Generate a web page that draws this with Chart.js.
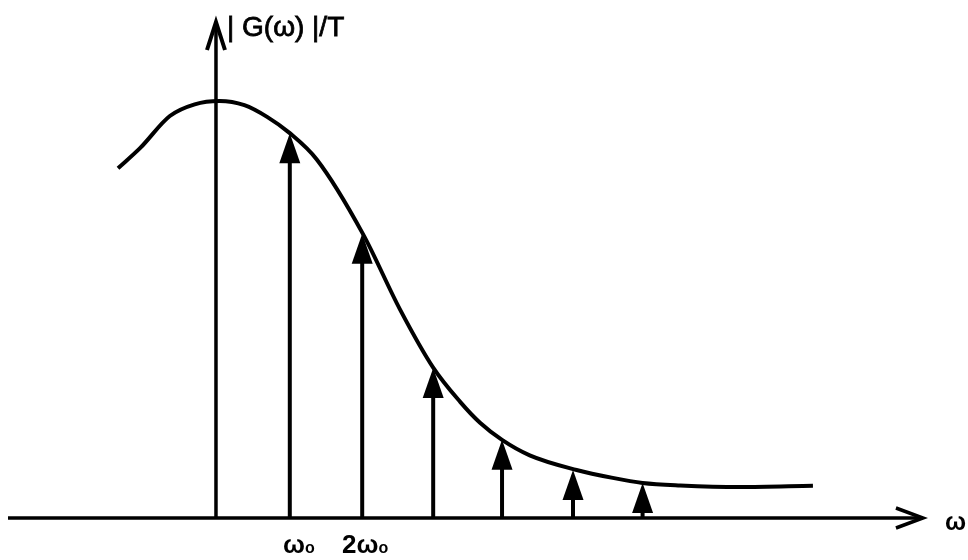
<!DOCTYPE html>
<html lang="en">
<head>
    <meta charset="UTF-8">
    <title>|G(ω)|/T spectrum</title>
    <script src="https://cdn.jsdelivr.net/npm/chart.js"></script>
    <style>
        body { margin: 0; background: #fff; }
        .chart-container { width: 968px; height: 560px; }
    </style>
</head>
<body>
    <div class="chart-container">
        <canvas id="spectrumChart" width="968" height="560"></canvas>
    </div>

    <script>
        // envelope |G(w)|/T, x in units of w0
        const curveX = [-1.38, -1.07, -0.65, -0.3, 0.05, 0.4, 0.72, 1.04, 1.42, 2.07, 2.59, 3.06, 3.44, 3.72, 4.03, 4.42, 5.08, 5.59, 6.01, 6.54, 7.38, 8.41];
        const curveY = [0.837, 0.885, 0.962, 0.990, 0.998, 0.988, 0.960, 0.921, 0.858, 0.680, 0.500, 0.360, 0.278, 0.228, 0.187, 0.150, 0.115, 0.096, 0.084, 0.078, 0.074, 0.077];

        // spectral lines at n*w0
        const lineX = [1.04, 2.06, 3.06, 4.03, 5.03, 6.01];
        const lineY = [0.921, 0.680, 0.359, 0.187, 0.115, 0.084];

        const tickX = [1.04, 2.06];
        const tickLabels = ['ω', '2ω'];
        const yTitle = '| G(ω) |/T';
        const xTitle = 'ω';

        const ink = '#000';
        const font = (size, weight) => weight + ' ' + size + 'px "Liberation Sans", Arial, sans-serif';

        // axes with arrowheads, spectral arrows and labels
        const sketchPlugin = {
            id: 'sketch',
            beforeDatasetsDraw(chart) {
                const { ctx, scales: { x, y } } = chart;
                const x0 = x.getPixelForValue(0);
                const y0 = y.getPixelForValue(0);
                ctx.save();
                ctx.strokeStyle = ink;
                ctx.fillStyle = ink;

                // horizontal axis
                ctx.lineWidth = 3.5;
                const xEnd = x.getPixelForValue(9.96);
                ctx.beginPath();
                ctx.moveTo(x.left, y0);
                ctx.lineTo(xEnd, y0);
                ctx.stroke();
                ctx.beginPath();
                ctx.moveTo(xEnd - 27, y0 - 10);
                ctx.lineTo(xEnd, y0);
                ctx.lineTo(xEnd - 27, y0 + 10);
                ctx.stroke();

                // vertical axis
                const yTop = y.top;
                ctx.beginPath();
                ctx.moveTo(x0, y0);
                ctx.lineTo(x0, yTop + 2);
                ctx.stroke();
                ctx.lineWidth = 4;
                ctx.beginPath();
                ctx.moveTo(x0 - 9, yTop + 28);
                ctx.lineTo(x0, yTop);
                ctx.lineTo(x0 + 9, yTop + 28);
                ctx.stroke();

                // spectral arrows
                lineX.forEach((v, i) => {
                    const px = x.getPixelForValue(v);
                    const tip = y.getPixelForValue(lineY[i]);
                    const headH = 30, headW = 21;
                    ctx.lineWidth = 4;
                    ctx.beginPath();
                    ctx.moveTo(px, y0);
                    ctx.lineTo(px, tip + headH - 2);
                    ctx.stroke();
                    ctx.beginPath();
                    ctx.moveTo(px, tip);
                    ctx.lineTo(px - headW / 2, tip + headH);
                    ctx.lineTo(px + headW / 2, tip + headH);
                    ctx.closePath();
                    ctx.fill();
                });

                // text
                ctx.textBaseline = 'alphabetic';
                ctx.textAlign = 'left';
                ctx.font = font(28, 'normal');
                ctx.lineWidth = 0.8;
                ctx.fillText(yTitle, x0 + 11, 36);
                ctx.strokeText(yTitle, x0 + 11, 36);
                ctx.font = font(25, 'bold');
                ctx.fillText(xTitle, x.right + 5, y0 + 12);

                tickX.forEach((v, i) => {
                    const px = x.getPixelForValue(v);
                    ctx.font = font(26, 'bold');
                    const mainW = ctx.measureText(tickLabels[i]).width;
                    ctx.font = font(16, 'bold');
                    const subW = ctx.measureText('o').width;
                    const start = px - (mainW + subW) / 2 + (i === 0 ? 9 : 3);
                    ctx.font = font(26, 'bold');
                    ctx.fillText(tickLabels[i], start, y0 + 35);
                    ctx.font = font(16, 'bold');
                    ctx.fillText('o', start + mainW, y0 + 35);
                });
                ctx.restore();
            }
        };

        const ctx = document.getElementById('spectrumChart').getContext('2d');
        const spectrumChart = new Chart(ctx, {
            type: 'line',
            data: {
                datasets: [{
                    label: '|G(ω)|/T',
                    data: curveX.map((v, i) => ({ x: v, y: curveY[i] })),
                    borderColor: ink,
                    borderWidth: 4,
                    pointRadius: 0,
                    cubicInterpolationMode: 'monotone',
                    fill: false
                }]
            },
            options: {
                responsive: false,
                animation: false,
                layout: { padding: { left: 8, right: 28, top: 22, bottom: 42 } },
                scales: {
                    x: { type: 'linear', min: -2.93, max: 10.2, display: false },
                    y: { min: 0, max: 1.187, display: false }
                },
                plugins: {
                    legend: { display: false },
                    tooltip: { enabled: false }
                }
            },
            plugins: [sketchPlugin]
        });
    </script>
</body>
</html>
